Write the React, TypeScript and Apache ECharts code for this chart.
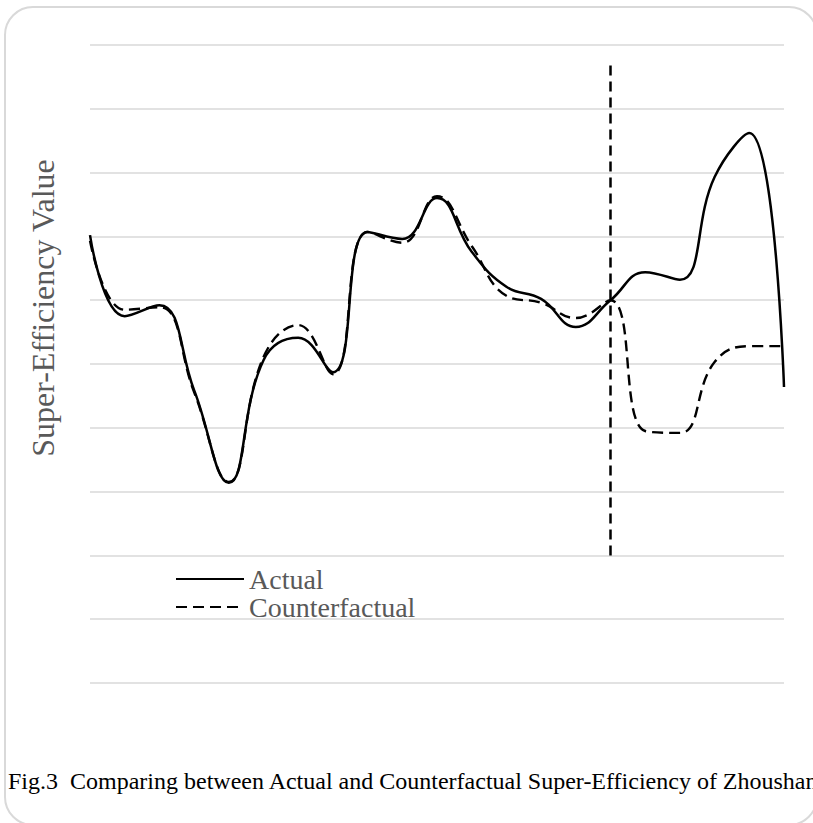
import React, { useEffect, useRef } from "react";
import * as echarts from "echarts";

const periods = [
  "2000", "2001", "2002", "2003", "2004", "2005", "2006", "2007", "2008", "2009", "2010",
  "2011", "2012", "2013", "2014", "2015", "2016", "2017", "2018", "2019", "2020",
];
const actual = [
  7.02, 5.75, 5.92, 4.59, 3.14, 5.06, 5.41, 4.87, 7.07, 6.96, 7.6,
  6.76, 6.21, 6.02, 5.58, 6.0, 6.44, 6.32, 7.93, 8.62, 4.64,
];
const counterfactual = [
  6.93, 5.85, 5.89, 4.56, 3.15, 5.11, 5.61, 4.84, 7.07, 6.9, 7.63,
  6.85, 6.07, 5.96, 5.72, 6.0, 3.95, 3.92, 5.03, 5.28, 5.28,
];
const policyIndex = 15;
const policyLineFrom = 2;
const policyLineTo = 9.77;
const yMin = 0;
const yMax = 10;
const yInterval = 1;

const yAxisTitle = "Super-Efficiency Value";
const caption = "Fig.3  Comparing between Actual and Counterfactual Super-Efficiency of Zhoushan";
const seriesNames = ["Actual", "Counterfactual"];

const SERIF = "'Liberation Serif', 'Times New Roman', serif";

export default function App() {
  const ref = useRef<HTMLDivElement>(null);
  useEffect(() => {
    document.body.style.margin = "0";
    const chart = echarts.init(ref.current!, null, { renderer: "svg" });
    chart.setOption({
      animation: false,
      textStyle: { fontFamily: SERIF },
      grid: { left: 90, right: 29, top: 45, bottom: 140, containLabel: false },
      xAxis: {
        type: "category",
        data: periods,
        boundaryGap: false,
        axisLine: { show: false },
        axisTick: { show: false },
        axisLabel: { show: false },
        splitLine: { show: false },
      },
      yAxis: {
        type: "value",
        min: yMin,
        max: yMax,
        interval: yInterval,
        axisLine: { show: false },
        axisTick: { show: false },
        axisLabel: { show: false },
        splitLine: { show: true, lineStyle: { color: "#d9d9d9", width: 1.5 } },
      },
      legend: {
        orient: "vertical",
        left: 170,
        top: 560,
        itemWidth: 68,
        itemHeight: 2,
        itemGap: 0,
        itemStyle: { opacity: 0 },
        data: seriesNames,
        textStyle: { fontSize: 28, lineHeight: 23, height: 23, color: "#595959", fontFamily: SERIF },
      },
      series: [
        {
          name: seriesNames[0],
          type: "line",
          data: actual,
          smooth: 0.45,
          symbol: "none",
          lineStyle: { color: "#000", width: 2.5 },
          itemStyle: { color: "#000" },
          z: 3,
          markLine: {
            silent: true,
            symbol: ["none", "none"],
            label: { show: false },
            lineStyle: { color: "#000", width: 2.5, type: [10, 6] },
            data: [[{ coord: [periods[policyIndex], policyLineFrom] }, { coord: [periods[policyIndex], policyLineTo] }]],
          },
        },
        {
          name: seriesNames[1],
          type: "line",
          data: counterfactual,
          smooth: 0.45,
          symbol: "none",
          lineStyle: { color: "#000", width: 2.4, type: [11, 6] },
          itemStyle: { color: "#000" },
          z: 2,
        },
      ],
      graphic: [
        {
          type: "rect",
          shape: { x: 5, y: 7, width: 812, height: 818, r: 28 },
          style: { fill: "none", stroke: "#d9d9d9", lineWidth: 2 },
          silent: true,
        },
        {
          type: "text",
          x: 43,
          y: 308,
          rotation: Math.PI / 2,
          style: {
            text: yAxisTitle,
            fontSize: 32,
            fontFamily: SERIF,
            fill: "#595959",
            align: "center",
            verticalAlign: "middle",
          },
        },
        {
          type: "text",
          x: 8,
          y: 781,
          style: {
            text: caption,
            fontSize: 24,
            fontFamily: SERIF,
            fill: "#000",
            align: "left",
            verticalAlign: "middle",
          },
        },
      ],
    });
    return () => chart.dispose();
  }, []);
  return <div ref={ref} style={{ width: 813, height: 823 }} />;
}
